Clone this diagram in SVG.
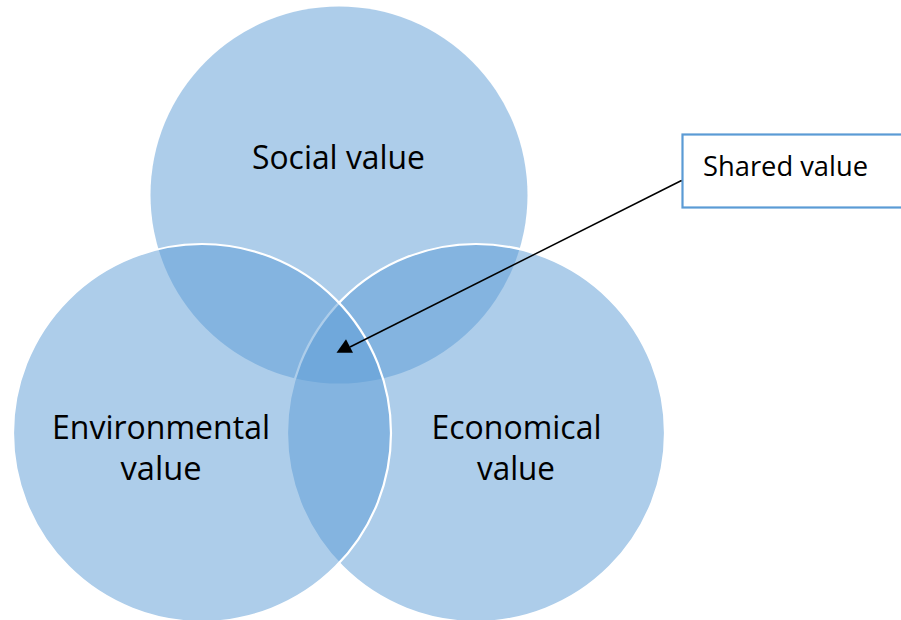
<svg xmlns="http://www.w3.org/2000/svg" width="901" height="620" viewBox="0 0 901 620">
  <style>
    .venn { fill: #5B9BD5; fill-opacity: 0.5; }
    .rim { stroke: #FFFFFF; stroke-width: 2.2; }
    .label { font-family: "Open Sans", "Liberation Sans", sans-serif; font-size: 32px; fill: #000000; text-anchor: middle; }
    .callout-text { font-family: "Open Sans", "Liberation Sans", sans-serif; font-size: 27.5px; fill: #000000; }
  </style>
  <rect x="0" y="0" width="901" height="620" fill="#FFFFFF"/>

  <!-- Social value (top) -->
  <g id="social">
    <circle class="venn" cx="339" cy="195" r="188.5"/>
  </g>

  <!-- Economical value (lower right) -->
  <g id="economical">
    <circle class="venn rim" cx="476" cy="433" r="189"/>
  </g>

  <!-- Environmental value (lower left) -->
  <g id="environmental">
    <circle class="venn rim" cx="202" cy="433" r="189"/>
  </g>

  <!-- circle labels -->
  <g id="social-label">
    <text class="label" x="338.5" y="169" textLength="173" lengthAdjust="spacingAndGlyphs">Social value</text>
  </g>
  <g id="environmental-label">
    <text class="label" x="161" y="438.5" textLength="218" lengthAdjust="spacingAndGlyphs">Environmental</text>
    <text class="label" x="161" y="480" textLength="81" lengthAdjust="spacingAndGlyphs">value</text>
  </g>
  <g id="economical-label">
    <text class="label" x="516.5" y="438.5" textLength="170" lengthAdjust="spacingAndGlyphs">Economical</text>
    <text class="label" x="516" y="480" textLength="78" lengthAdjust="spacingAndGlyphs">value</text>
  </g>

  <!-- callout box -->
  <g id="shared">
    <rect x="682.5" y="134.5" width="240" height="73" fill="#FFFFFF" stroke="#5B9BD5" stroke-width="2.2"/>
    <text class="callout-text" x="703" y="176" textLength="165" lengthAdjust="spacingAndGlyphs">Shared value</text>
  </g>

  <!-- connector -->
  <g id="connectors">
    <line x1="681.5" y1="180.5" x2="350" y2="347" stroke="#000000" stroke-width="1.5"/>
    <polygon points="346,339.3 336.5,352.8 353,352.8" fill="#000000"/>
  </g>
</svg>
